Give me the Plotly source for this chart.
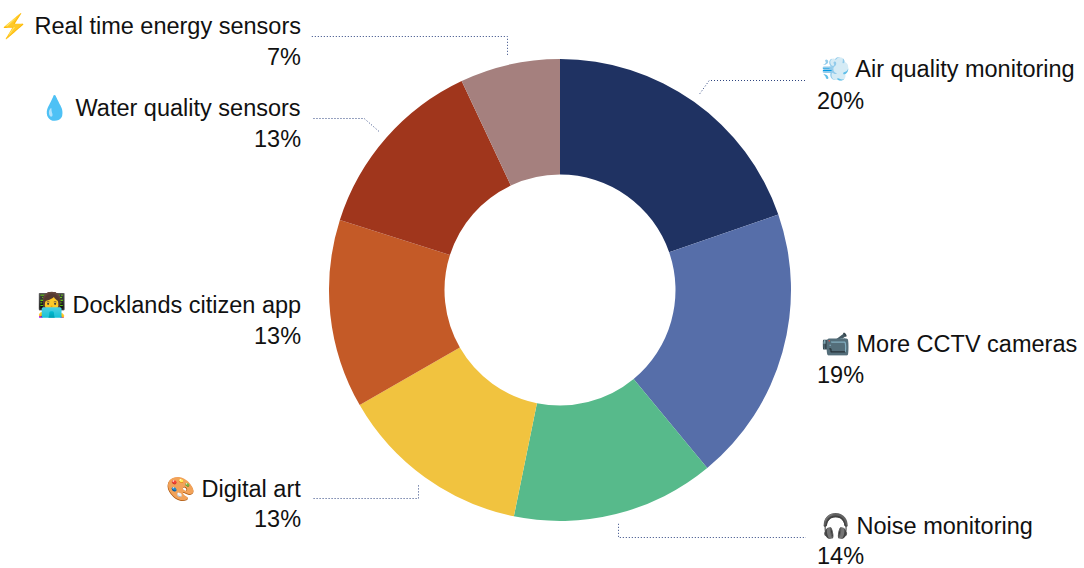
import math
import plotly.graph_objects as go

categories = ["Air quality monitoring", "More CCTV cameras", "Noise monitoring", "Digital art",
              "Docklands citizen app", "Water quality sensors", "Real time energy sensors"]
emoji = ["💨", "📹", "🎧", "🎨", "👩‍💻", "💧", "⚡"]
values = [19.7, 19.3, 14.2, 13.5, 13.2, 13.1, 7.0]
percent_labels = ["20%", "19%", "14%", "13%", "13%", "13%", "7%"]
colors = ["#1F3262", "#566EA9", "#57BA8B", "#F1C33F", "#C45A27", "#A0361C", "#A5807E"]

W, H = 1084, 568
CX, CY, R = 560, 290, 231
FONT = "Liberation Sans, Arial, sans-serif"
FS = 23.5

label_y = [69, 344, 526, 488, 305, 108, 26]
label_x = [819, 819, 819, 303, 303, 303, 303]
pct_x = [815, 815, 815, 303, 303, 303, 303]
pct_y = [101, 375, 556, 519, 336, 139, 57]
anchors = ["left", "left", "left", "right", "right", "right", "right"]
leaders = [("radial", 806, 80.5), None, ("vertical", 806, 537.5), ("vertical", 312, 498.5), None,
           ("radial", 313, 118.5), ("vertical", 311, 36.5)]

fig = go.Figure()
fig.add_trace(go.Pie(labels=categories, values=values, sort=False, direction="clockwise", rotation=0,
                     hole=0.5, marker=dict(colors=colors, line=dict(color="white", width=0)),
                     textinfo="none", hoverinfo="label+percent", showlegend=False,
                     domain=dict(x=[(CX - R) / W, (CX + R) / W], y=[(H - CY - R) / H, (H - CY + R) / H])))

total = sum(values)
cum = 0
for i, v in enumerate(values):
    mid = math.radians((cum + v / 2) / total * 360)
    cum += v
    lead = leaders[i]
    if lead:
        kind, xe, ye = lead
        sx = CX + (R + 10) * math.sin(mid)
        sy = CY - (R + 10) * math.cos(mid)
        if kind == "vertical":
            sx = math.floor(sx) + 0.5
            ex = sx
        else:
            ex = sx + (ye - sy) / (-math.cos(mid)) * math.sin(mid)
        fig.add_trace(go.Scatter(x=[sx, ex, xe], y=[sy, ye, ye], mode="lines", hoverinfo="skip", showlegend=False,
                                 line=dict(color="#2F4580", width=1, dash="1px,2px")))
    fig.add_annotation(x=label_x[i], y=label_y[i], xref="x", yref="y", text=f"{emoji[i]} {categories[i]}",
                       showarrow=False, xanchor=anchors[i],
                       font=dict(family=FONT, size=FS, color="#111111"))
    fig.add_annotation(x=pct_x[i], y=pct_y[i], xref="x", yref="y", text=percent_labels[i],
                       showarrow=False, xanchor=anchors[i],
                       font=dict(family=FONT, size=FS, color="#111111"))

fig.update_layout(width=W, height=H, margin=dict(l=0, r=0, t=0, b=0), paper_bgcolor="white", plot_bgcolor="white",
                  xaxis=dict(visible=False, range=[0, W], fixedrange=True),
                  yaxis=dict(visible=False, range=[H, 0], fixedrange=True))
fig.write_html("out.html", config=dict(displayModeBar=False),
               post_script="document.body.style.margin='0';document.body.style.overflow='hidden';")
